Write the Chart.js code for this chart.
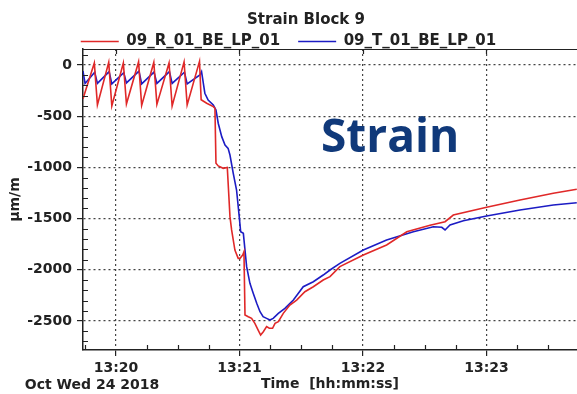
<!DOCTYPE html>
<html>
<head>
<meta charset="utf-8">
<title>Strain Block 9</title>
<script src="https://cdn.jsdelivr.net/npm/chart.js@4.4.1/dist/chart.umd.min.js"></script>
<style>
    html, body { margin: 0; padding: 0; background: #fff; }
    canvas { display: block; }
</style>
</head>
<body>
<canvas id="strain" width="577" height="394"></canvas>
<script>
// time in seconds after 13:20:00 (Oct Wed 24 2018), strain in µm/m
const redTime = [-16, -10.5, -9.0, -3.5, -2.0, 3.6, 5.1, 11.0, 12.5, 18.4, 19.9, 25.8, 27.3, 33.1, 34.6, 40.6,
    41.4, 44.1, 47.3, 48.1, 48.6, 49.7, 52.1, 54.1, 54.7, 55.4, 56.2, 57.8, 59.4, 60.3, 61.6, 62.2,
    62.7, 64.3, 65.9, 67.5, 69.1, 70.3, 71.6, 73.2, 74.5, 76.1, 77.3, 78.9, 81.3, 84.5, 87.8, 91.8,
    95.9, 100.7, 104.0, 108.8, 120.2, 131.5, 141.3, 152.6, 159.9, 163.9, 180.1, 196.3, 212.5, 223.9];
const redStrain = [-330, 20, -390, 25, -400, 20, -380, 30, -395, 25, -385, 20, -400, 30, -390, 35,
    -340, -374, -407, -423, -960, -986, -1009, -1000, -1220, -1481, -1611, -1807, -1888, -1888, -1855, -1823,
    -2441, -2458, -2474, -2523, -2588, -2637, -2604, -2555, -2571, -2571, -2523, -2507, -2425, -2344, -2295, -2214,
    -2165, -2100, -2067, -1969, -1855, -1758, -1628, -1565, -1530, -1465, -1390, -1318, -1253, -1214];

const blueTime = [-16, -15.0, -10.3, -9.0, -3.3, -2.0, 3.8, 5.1, 11.2, 12.5, 18.5, 19.9, 26.0, 27.3, 33.3, 34.6,
    40.8, 41.6, 43.2, 44.8, 47.3, 48.6, 49.7, 51.4, 53.0, 54.5, 55.4, 57.0, 58.6, 59.9, 60.6, 61.9,
    62.7, 63.5, 65.1, 66.7, 68.4, 70.0, 71.5, 73.2, 74.8, 76.4, 78.9, 82.1, 86.2, 91.0, 95.9, 100.7,
    104.0, 108.8, 120.2, 131.5, 144.5, 154.2, 158.3, 159.9, 162.3, 168.8, 180.1, 196.3, 212.5, 223.9];
const blueStrain = [-60, -180, -70, -180, -65, -185, -75, -175, -60, -185, -70, -180, -65, -180, -70, -185,
    -98, -65, -276, -342, -391, -439, -569, -700, -781, -814, -879, -1058, -1221, -1481, -1628, -1644,
    -1807, -1969, -2132, -2230, -2327, -2409, -2458, -2474, -2490, -2474, -2425, -2376, -2295, -2165, -2116, -2051,
    -2002, -1937, -1807, -1709, -1628, -1579, -1585, -1611, -1563, -1521, -1475, -1416, -1367, -1345];

const timeTickSeconds = [0, 60, 120, 180];
const timeTicks = ['13:20', '13:21', '13:22', '13:23'];
const strainTicks = [0, -500, -1000, -1500, -2000, -2500];
const seriesNames = ['09_R_01_BE_LP_01', '09_T_01_BE_LP_01'];

const axisFont = { family: 'DejaVu Sans', size: 14, weight: 'bold' };
const ink = '#222';

function toPoints(times, values) {
    return times.map((t, i) => ({ x: t, y: values[i] }));
}

// legend always adds 10px below itself, keep it tight to the frame
const legendHeight = {
    id: 'legendHeight',
    beforeLayout(chart) {
        const legend = chart.legend;
        if (legend && !legend.fixedFit) {
            const fit = legend.fit;
            legend.fit = function () { fit.call(this); this.height = 33; };
            legend.fixedFit = true;
        }
    }
};

// top frame, minor ticks and the loose texts
const decorations = {
    id: 'decorations',
    afterDraw(chart) {
        const { ctx, chartArea: a, scales: { x, y } } = chart;
        ctx.save();
        ctx.strokeStyle = ink;
        ctx.lineWidth = 1.2;
        ctx.beginPath();
        ctx.moveTo(a.left, a.top + 0.5);
        ctx.lineTo(a.right, a.top + 0.5);
        for (let s = Math.ceil(x.min / 15) * 15; s <= x.max; s += 15) {
            const px = Math.round(x.getPixelForValue(s)) + 0.5;
            if (s % 60 === 0) {
                ctx.moveTo(px, a.top);
                ctx.lineTo(px, a.top + 5);
            } else {
                ctx.moveTo(px, a.bottom);
                ctx.lineTo(px, a.bottom - 5);
            }
        }
        for (let v = Math.ceil(y.min / 100) * 100; v <= y.max; v += 100) {
            if (v % 500 === 0) continue;
            const py = Math.round(y.getPixelForValue(v)) + 0.5;
            ctx.moveTo(a.left, py);
            ctx.lineTo(a.left + 5, py);
        }
        ctx.stroke();

        ctx.fillStyle = ink;
        ctx.textBaseline = 'middle';
        ctx.textAlign = 'center';
        ctx.font = 'bold 15px "DejaVu Sans"';
        ctx.fillText('Strain Block 9', 306, 20);
        ctx.font = 'bold 14px "DejaVu Sans"';
        ctx.fillText('Oct Wed 24 2018', 92, 385);

        ctx.fillStyle = '#10397a';
        ctx.textAlign = 'left';
        ctx.textBaseline = 'alphabetic';
        ctx.font = 'bold 46px "Open Sans"';
        ctx.fillText('Strain', 321, 152);
        ctx.restore();
    }
};

const ctx = document.getElementById('strain').getContext('2d');
const chart = new Chart(ctx, {
    type: 'line',
    data: {
        datasets: [{
            label: seriesNames[0],
            data: toPoints(redTime, redStrain),
            borderColor: '#e02828',
            backgroundColor: '#e02828',
            borderWidth: 1.6
        }, {
            label: seriesNames[1],
            data: toPoints(blueTime, blueStrain),
            borderColor: '#1c1cc4',
            backgroundColor: '#1c1cc4',
            borderWidth: 1.6
        }]
    },
    options: {
        responsive: false,
        animation: false,
        layout: { padding: { top: 16, left: 0, right: 0, bottom: 0 } },
        elements: { point: { radius: 0 }, line: { tension: 0 } },
        plugins: {
            title: { display: false },
            tooltip: { enabled: false },
            legend: {
                position: 'top',
                labels: {
                    usePointStyle: true,
                    pointStyle: 'line',
                    pointStyleWidth: 38,
                    padding: 18,
                    color: ink,
                    font: { family: 'DejaVu Sans', size: 15, weight: 'bold' }
                }
            }
        },
        scales: {
            x: {
                type: 'linear',
                min: -16,
                max: 224,
                afterFit: scale => { scale.height = 44; },
                afterBuildTicks: scale => { scale.ticks = timeTickSeconds.map(v => ({ value: v })); },
                border: { display: true, color: ink, width: 1.5, dash: [2, 3] },
                grid: { color: '#444', lineWidth: 1.2, tickLength: 6, tickColor: ink, tickWidth: 1.2, tickBorderDash: [] },
                ticks: {
                    autoSkip: false,
                    maxRotation: 0,
                    padding: 4,
                    color: ink,
                    font: axisFont,
                    callback: value => timeTicks[timeTickSeconds.indexOf(value)]
                },
                title: {
                    display: true,
                    text: 'Time  [hh:mm:ss]',
                    color: ink,
                    font: axisFont,
                    padding: { top: 0, bottom: 1 }
                }
            },
            y: {
                type: 'linear',
                min: -2783,
                max: 156,
                afterFit: scale => { scale.width = 83; },
                afterBuildTicks: scale => { scale.ticks = strainTicks.map(v => ({ value: v })); },
                border: { display: true, color: ink, width: 1.5, dash: [2, 3] },
                grid: { color: '#444', lineWidth: 1.2, tickLength: 6, tickColor: ink, tickWidth: 1.2, tickBorderDash: [] },
                ticks: {
                    autoSkip: false,
                    padding: 5,
                    color: ink,
                    font: axisFont,
                    callback: value => String(value)
                },
                title: {
                    display: true,
                    text: 'µm/m',
                    color: ink,
                    font: axisFont,
                    padding: { top: 7, bottom: 0 }
                }
            }
        }
    },
    plugins: [legendHeight, decorations]
});
</script>
</body>
</html>
